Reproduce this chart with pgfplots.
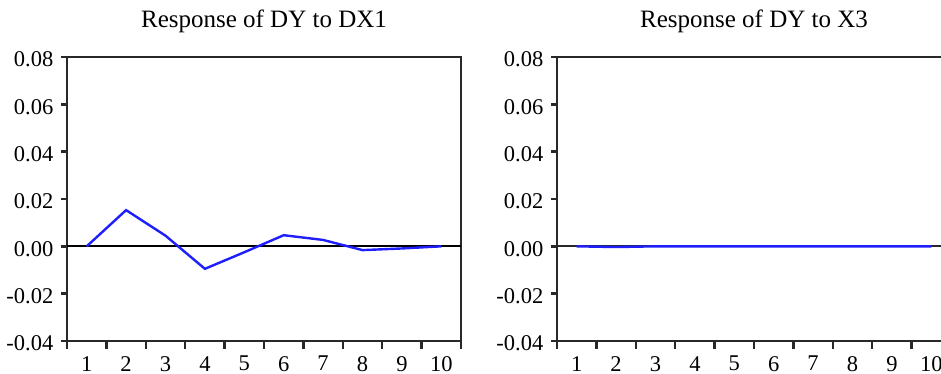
\documentclass[border=0pt]{standalone}
\usepackage{fontspec}
\setmainfont{Liberation Serif}
\usepackage{pgfplots}
\pgfplotsset{compat=1.18}
\definecolor{irfblue}{RGB}{30,30,255}
\definecolor{axgray}{RGB}{40,40,40}
\begin{document}
\fontsize{22.5}{27}\selectfont
\begin{tikzpicture}[x=1pt,y=1pt]
\useasboundingbox (0,0) rectangle (941,374);
\clip (0,0) rectangle (941,374);
\pgfplotsset{
  irf/.style={
    scale only axis, width=394pt, height=284pt,
    anchor=south west,
    xmin=0.5, xmax=10.5, ymin=-0.04, ymax=0.08,
    scaled y ticks=false, scaled x ticks=false,
    axis line style={line width=2.4pt, axgray},
    every tick/.style={line width=2.4pt, axgray},
    xtick={1,2,3,4,5,6,7,8,9,10},
    xticklabels={1,2,3,4,5,6,7,8,9,10},
    major x tick style={draw=none},
    minor xtick={0.5,1.5,2.5,3.5,4.5,5.5,6.5,7.5,8.5,9.5,10.5},
    ytick={-0.04,-0.02,0,0.02,0.04,0.06,0.08},
    yticklabels={-0.04,-0.02,0.00,0.02,0.04,0.06,0.08},
    tick align=outside, tick pos=left,
    major tick length=6pt, minor tick length=8pt,
    ticklabel style={font=\fontsize{22.5}{27}\selectfont},
    xticklabel style={inner sep=0pt, yshift=-9pt},
    yticklabel style={yshift=-2.5pt},
    /pgf/number format/assume math mode=true,
    title style={at={(0.5,1)}, anchor=base, yshift=23pt, font=\fontsize{25}{30}\selectfont},
    clip=false,
  }
}
\begin{axis}[irf, at={(67pt,33pt)}, title={Response of DY to DX1}]
\addplot[black, line width=2.2pt] coordinates {(0.5,0) (10.5,0)};
\addplot[irfblue, line width=2.4pt] coordinates {
(1,0) (2,0.0153) (3,0.0045) (4,-0.0095) (5,-0.0025) (6,0.0047) (7,0.0027) (8,-0.0016) (9,-0.0009) (10,0.0000)};
\end{axis}
\begin{axis}[irf, at={(557pt,33pt)}, title={Response of DY to X3}]
\addplot[axgray, line width=2.2pt] coordinates {(0.5,0) (10.5,0)};
\addplot[irfblue, line width=2.4pt] coordinates {
(1,0) (2,-0.0003) (3,0) (4,0) (5,0) (6,0) (7,0) (8,0) (9,0) (10,0)};
\end{axis}
\end{tikzpicture}
\end{document}
